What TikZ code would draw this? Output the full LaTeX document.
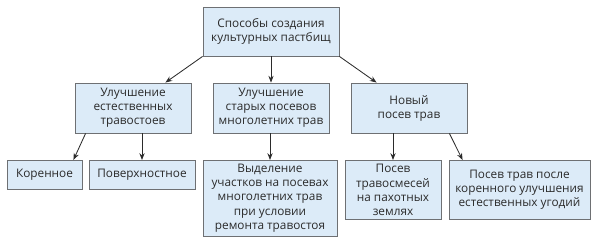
\documentclass[tikz,border=0pt]{standalone}
\usepackage{fontspec}
\setmainfont{Open Sans}
\usetikzlibrary{arrows.meta,calc,positioning}
\definecolor{BoxFill}{HTML}{DCEBF8}
\definecolor{BoxLine}{HTML}{6E7073}
\definecolor{Ink}{HTML}{2B2B2B}

\begin{document}
\begin{tikzpicture}[
    font=\fontsize{8.4}{10}\selectfont,
    arr/.style={-{Stealth[length=1.7mm,width=1.3mm]}, line width=0.6pt, draw=Ink},
    box/.style={
        draw=BoxLine,
        fill=BoxFill,
        line width=0.6pt,
        align=center,
        inner sep=1mm,
        text=Ink
    },
    leaf/.style={box, anchor=north}
]
\useasboundingbox (0,0) rectangle (15,6.05);

% Root
\node[box, minimum width=34mm, minimum height=12.25mm] (root) at (6.775,5.2625)
    {Способы создания\\культурных пастбищ};

% Middle level
\node[box, minimum width=29mm, minimum height=12.5mm] (natural) at (3.325,3.35)
    {Улучшение\\естественных\\травостоев};
\node[box, minimum width=29mm, minimum height=12.5mm] (old) at (6.775,3.35)
    {Улучшение\\старых посевов\\многолетних трав};
\node[box, minimum width=29mm, minimum height=12.5mm] (new) at (10.225,3.35)
    {Новый\\посев трав};

% Bottom level
\node[leaf, minimum width=18.75mm, minimum height=7.25mm] (koren) at (1.1125,2.05)
    {Коренное};
\node[leaf, minimum width=26.5mm, minimum height=7.25mm] (poverkh) at (3.55,2.05)
    {Поверхностное};
\node[leaf, minimum width=33.5mm, minimum height=18.25mm] (vydel) at (6.75,2.05)
    {Выделение\\участков на посевах\\многолетних трав\\при условии\\ремонта травостоя};
\node[leaf, minimum width=24mm, minimum height=14.75mm] (travosm) at (9.825,2.05)
    {Посев\\травосмесей\\на пахотных\\землях};
\node[leaf, minimum width=35.25mm, minimum height=14.75mm] (posle) at (12.9875,2.05)
    {Посев трав после\\коренного улучшения\\естественных угодий};

% Connectors
\draw[arr] (root.south west) -- ([xshift=-6.5mm]natural.north east);
\draw[arr] (root.south) -- (old.north);
\draw[arr] (root.south east) -- ([xshift=6.5mm]new.north west);

\draw[arr] ([xshift=2.75mm]natural.south west) -- ([xshift=-2.25mm]koren.north east);
\draw[arr] (poverkh.north |- natural.south) -- (poverkh.north);
\draw[arr] (vydel.north |- old.south) -- (vydel.north);
\draw[arr] (travosm.north |- new.south) -- (travosm.north);
\draw[arr] ([xshift=-4.5mm]new.south east) -- ([xshift=3.5mm]posle.north west);

\end{tikzpicture}
\end{document}
